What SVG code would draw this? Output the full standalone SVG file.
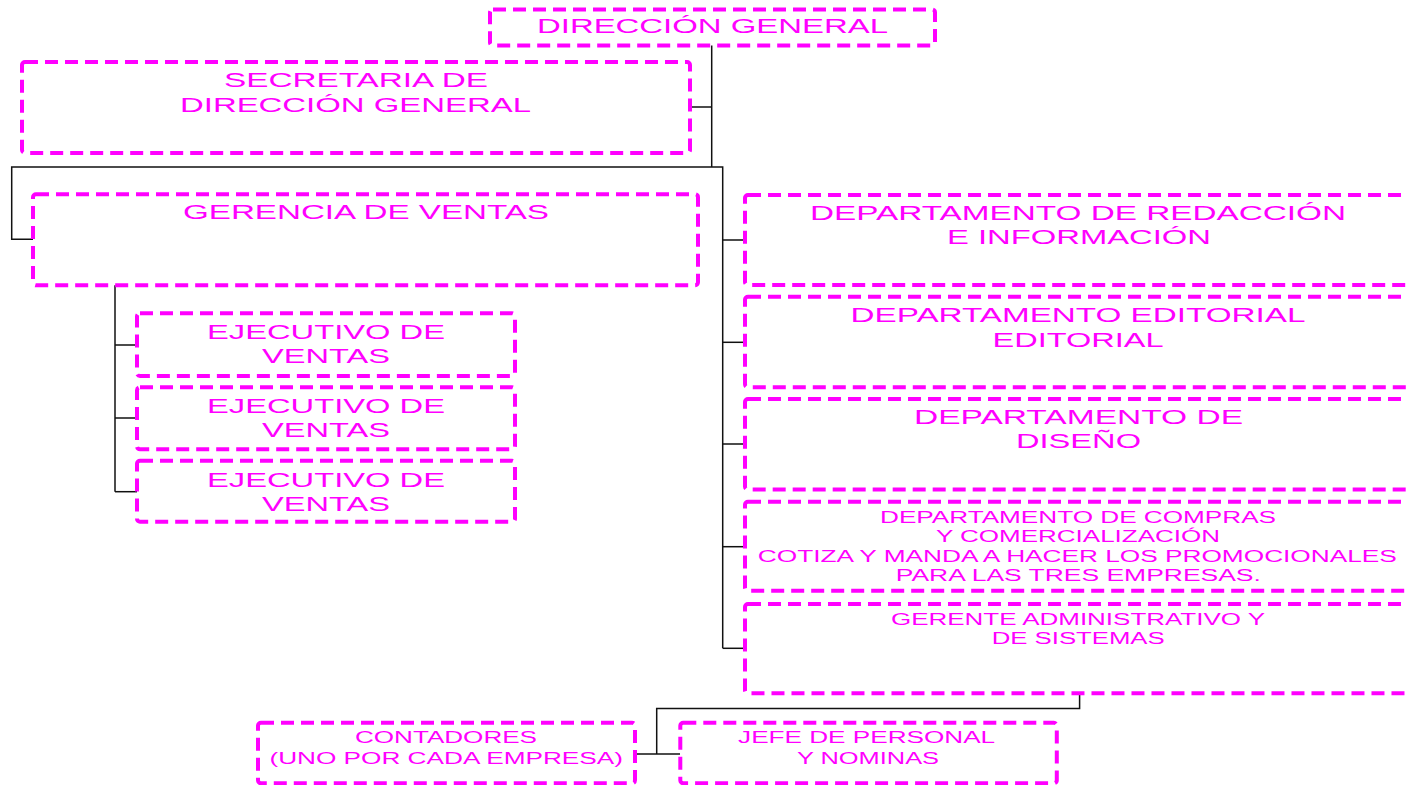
<svg xmlns="http://www.w3.org/2000/svg" width="1406" height="785" viewBox="0 0 1406 785">
  <style>
    .box { fill: #ffffff; stroke: #ff00ff; stroke-width: 4; stroke-dasharray: 13 7; stroke-linejoin: round; }
    .lbl { fill: #ff00ff; font-family: "Liberation Sans", Arial, sans-serif; text-anchor: middle; }
    .lg { font-size: 21px; }
    .sm { font-size: 16px; }
    .wire { fill: none; stroke: #111111; stroke-width: 1.5; }
  </style>
  <rect width="1406" height="785" fill="#ffffff"/>

  <!-- connectors -->
  <g id="connectors">
    <polyline class="wire" points="711.7,45 711.7,167"/>
    <polyline class="wire" points="690,107 711.7,107"/>
    <polyline class="wire" points="33,239.3 11.7,239.3 11.7,167 722.7,167 722.7,648.3"/>
    <polyline class="wire" points="115,285 115,491.7"/>
    <polyline class="wire" points="115,345 137,345"/>
    <polyline class="wire" points="115,418 137,418"/>
    <polyline class="wire" points="115,491.7 137,491.7"/>
    <polyline class="wire" points="722.7,240 745,240"/>
    <polyline class="wire" points="722.7,342.3 745,342.3"/>
    <polyline class="wire" points="722.7,444 745,444"/>
    <polyline class="wire" points="722.7,546.7 745,546.7"/>
    <polyline class="wire" points="722.7,648.3 745,648.3"/>
    <polyline class="wire" points="1079.6,693.3 1079.6,708.5 656.7,708.5 656.7,754"/>
    <polyline class="wire" points="635,754 680,754"/>
  </g>

  <g id="direccion-general">
    <rect class="box" x="490" y="9.5" width="445" height="36" rx="3"/>
    <text class="lbl lg" x="712.5" y="33" textLength="351" lengthAdjust="spacingAndGlyphs">DIRECCIÓN GENERAL</text>
  </g>

  <g id="secretaria">
    <rect class="box" x="22" y="62" width="668" height="91" rx="3"/>
    <text class="lbl lg" x="356" y="87" textLength="264" lengthAdjust="spacingAndGlyphs">SECRETARIA DE</text>
    <text class="lbl lg" x="355.5" y="111.5" textLength="351" lengthAdjust="spacingAndGlyphs">DIRECCIÓN GENERAL</text>
  </g>

  <g id="gerencia-ventas">
    <rect class="box" x="33" y="194.3" width="665" height="91" rx="3"/>
    <text class="lbl lg" x="366" y="219.3" textLength="366" lengthAdjust="spacingAndGlyphs">GERENCIA DE VENTAS</text>
  </g>

  <g id="ejecutivo-1">
    <rect class="box" x="137" y="313.3" width="378" height="62.7" rx="3"/>
    <text class="lbl lg" x="326" y="339.3" textLength="238" lengthAdjust="spacingAndGlyphs">EJECUTIVO DE</text>
    <text class="lbl lg" x="326" y="363.3" textLength="128" lengthAdjust="spacingAndGlyphs">VENTAS</text>
  </g>
  <g id="ejecutivo-2">
    <rect class="box" x="137" y="387.3" width="378" height="62" rx="3"/>
    <text class="lbl lg" x="326" y="413.3" textLength="238" lengthAdjust="spacingAndGlyphs">EJECUTIVO DE</text>
    <text class="lbl lg" x="326" y="437.3" textLength="128" lengthAdjust="spacingAndGlyphs">VENTAS</text>
  </g>
  <g id="ejecutivo-3">
    <rect class="box" x="137" y="460.7" width="378" height="61" rx="3"/>
    <text class="lbl lg" x="326" y="486.7" textLength="238" lengthAdjust="spacingAndGlyphs">EJECUTIVO DE</text>
    <text class="lbl lg" x="326" y="510.7" textLength="128" lengthAdjust="spacingAndGlyphs">VENTAS</text>
  </g>

  <g id="depto-redaccion">
    <rect class="box" x="745" y="195" width="668" height="90" rx="3"/>
    <text class="lbl lg" x="1078" y="220" textLength="536" lengthAdjust="spacingAndGlyphs">DEPARTAMENTO DE REDACCIÓN</text>
    <text class="lbl lg" x="1079" y="243.5" textLength="264" lengthAdjust="spacingAndGlyphs">E INFORMACIÓN</text>
  </g>

  <g id="depto-editorial">
    <rect class="box" x="745" y="296.7" width="668" height="90.6" rx="3"/>
    <text class="lbl lg" x="1078" y="321.7" textLength="455" lengthAdjust="spacingAndGlyphs">DEPARTAMENTO EDITORIAL</text>
    <text class="lbl lg" x="1078" y="346.7" textLength="171" lengthAdjust="spacingAndGlyphs">EDITORIAL</text>
  </g>

  <g id="depto-diseno">
    <rect class="box" x="745" y="399" width="668" height="90.5" rx="3"/>
    <text class="lbl lg" x="1078.5" y="424" textLength="329" lengthAdjust="spacingAndGlyphs">DEPARTAMENTO DE</text>
    <text class="lbl lg" x="1078.5" y="448" textLength="125" lengthAdjust="spacingAndGlyphs">DISEÑO</text>
  </g>

  <g id="depto-compras">
    <rect class="box" x="745" y="501.7" width="668" height="89" rx="3"/>
    <text class="lbl sm" x="1078" y="523.3" textLength="396" lengthAdjust="spacingAndGlyphs">DEPARTAMENTO DE COMPRAS</text>
    <text class="lbl sm" x="1078" y="542.3" textLength="284" lengthAdjust="spacingAndGlyphs">Y COMERCIALIZACIÓN</text>
    <text class="lbl sm" x="1077.3" y="561.7" textLength="639" lengthAdjust="spacingAndGlyphs">COTIZA Y MANDA A HACER LOS PROMOCIONALES</text>
    <text class="lbl sm" x="1078.3" y="580.7" textLength="365" lengthAdjust="spacingAndGlyphs">PARA LAS TRES EMPRESAS.</text>
  </g>

  <g id="gerente-administrativo">
    <rect class="box" x="745" y="604" width="668" height="89.3" rx="3"/>
    <text class="lbl sm" x="1078" y="625" textLength="374" lengthAdjust="spacingAndGlyphs">GERENTE ADMINISTRATIVO Y</text>
    <text class="lbl sm" x="1078.2" y="644" textLength="173" lengthAdjust="spacingAndGlyphs">DE SISTEMAS</text>
  </g>

  <g id="contadores">
    <rect class="box" x="258" y="722.7" width="377" height="60.6" rx="3"/>
    <text class="lbl sm" x="446" y="743.3" textLength="182" lengthAdjust="spacingAndGlyphs">CONTADORES</text>
    <text class="lbl sm" x="446.2" y="764" textLength="353.5" lengthAdjust="spacingAndGlyphs">(UNO POR CADA EMPRESA)</text>
  </g>

  <g id="jefe-personal">
    <rect class="box" x="680.3" y="722.7" width="376.5" height="60.6" rx="3"/>
    <text class="lbl sm" x="866.6" y="743.3" textLength="257" lengthAdjust="spacingAndGlyphs">JEFE DE PERSONAL</text>
    <text class="lbl sm" x="868" y="764" textLength="142" lengthAdjust="spacingAndGlyphs">Y NOMINAS</text>
  </g>
</svg>
